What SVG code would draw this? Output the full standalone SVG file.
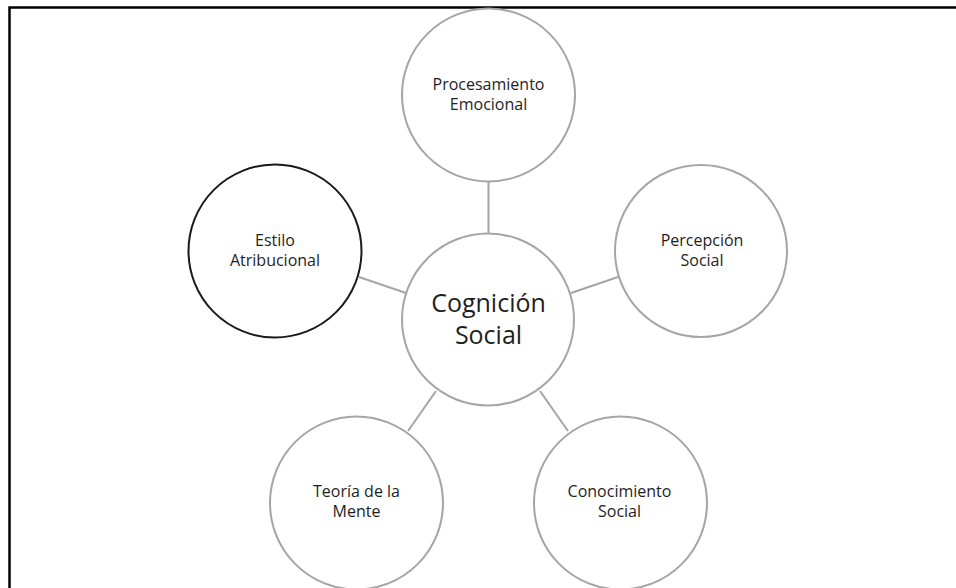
<svg xmlns="http://www.w3.org/2000/svg" width="956" height="588" viewBox="0 0 956 588">
  <style>
    .node { fill: #ffffff; stroke: #a5a5a5; stroke-width: 2; }
    .node.dark { stroke: #1a1a1a; }
    .link { stroke: #a5a5a5; stroke-width: 2; fill: none; }
    .frame { stroke: #000000; stroke-width: 2.5; fill: none; }
    text { font-family: "Open Sans", "Liberation Sans", sans-serif; fill: #1e1e1e; text-anchor: middle; }
    .small { font-size: 16px; }
    .big { font-size: 25px; }
  </style>
  <rect width="956" height="588" fill="#ffffff"/>
  <path class="frame" d="M9.5,588 V7.5 H956"/>

  <g id="connectors">
    <line class="link" x1="488.5" y1="181.5" x2="488.5" y2="233"/>
    <line class="link" x1="359" y1="277" x2="406" y2="293"/>
    <line class="link" x1="571" y1="293" x2="618" y2="277"/>
    <line class="link" x1="436" y1="391" x2="408" y2="431"/>
    <line class="link" x1="540" y1="391" x2="568" y2="431"/>
  </g>

  <g id="procesamiento-emocional">
    <circle class="node" cx="488.5" cy="95" r="86.5"/>
    <text class="small" x="488.5" y="90">Procesamiento</text>
    <text class="small" x="488.5" y="110">Emocional</text>
  </g>

  <g id="estilo-atribucional">
    <circle class="node dark" cx="275" cy="251" r="86.5"/>
    <text class="small" x="275" y="246">Estilo</text>
    <text class="small" x="275" y="266">Atribucional</text>
  </g>

  <g id="percepcion-social">
    <circle class="node" cx="701" cy="251" r="86"/>
    <text class="small" x="702" y="246">Percepción</text>
    <text class="small" x="702" y="266">Social</text>
  </g>

  <g id="cognicion-social">
    <circle class="node" cx="488" cy="319.5" r="86"/>
    <text class="big" x="488.5" y="311.5">Cognición</text>
    <text class="big" x="488.5" y="344">Social</text>
  </g>

  <g id="teoria-de-la-mente">
    <circle class="node" cx="356.5" cy="503" r="86.5"/>
    <text class="small" x="356.5" y="497">Teoría de la</text>
    <text class="small" x="356.5" y="517">Mente</text>
  </g>

  <g id="conocimiento-social">
    <circle class="node" cx="620.5" cy="503" r="86.5"/>
    <text class="small" x="619.5" y="497">Conocimiento</text>
    <text class="small" x="619.5" y="517">Social</text>
  </g>
</svg>
